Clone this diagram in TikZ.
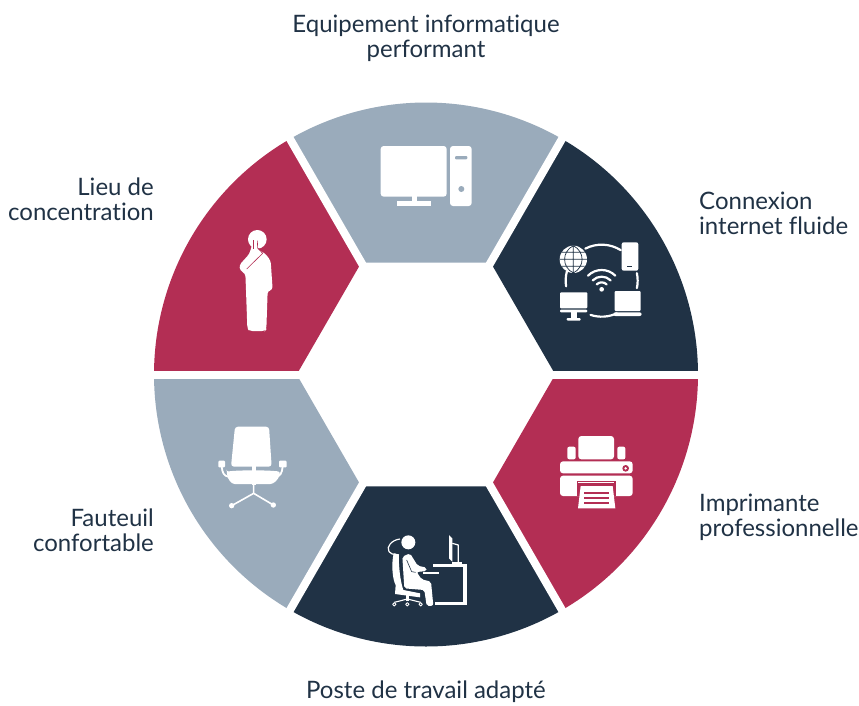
\documentclass[tikz,border=0pt]{standalone}
\usepackage{fontspec}
\usepackage{tikz}
\setmainfont{Lato}[Ligatures=NoCommon]
\definecolor{ringnavy}{HTML}{203245}
\definecolor{ringgray}{HTML}{9AABBB}
\definecolor{ringred}{HTML}{B32E54}
\tikzset{
    label text/.style = {font=\fontsize{24}{25.5}\selectfont, text=ringnavy, inner sep=0pt},
    label left/.style = {label text, align=left, anchor=north west},
    label right/.style = {label text, align=right, anchor=north east},
    label mid/.style = {label text, align=center, anchor=north},
    icon/.style = {fill=white, draw=none},
    thin wire/.style = {draw=white, line width=2.2pt, line cap=round}
}

\begin{document}
\begin{tikzpicture}[
            x = 1pt,
            y = -1pt,
            line join = round
        ]
        \useasboundingbox (0,0) rectangle (859,705);

        % ring
        \begin{scope}[shift={(426,374.5)}, y=1pt]
            \foreach \from/\col in {0/ringnavy, 60/ringgray, 120/ringred, 180/ringgray, 240/ringnavy, 300/ringred}
                \fill[\col] (\from:129.3) -- (\from:272) arc[start angle=\from, end angle=\from+60, radius=272] -- (\from+60:129.3) -- cycle;
            \foreach \ang in {0, 60, 120}
                \draw[white, line width=8pt] (\ang:276) -- (\ang+180:276);
        \end{scope}

        % labels
        \node[label mid] (equip) at (426,14.5) {Equipement informatique\\performant};
        \node[label left] (web) at (699,191.5) {Connexion\\internet fluide};
        \node[label left] (printer) at (699,493.5) {Imprimante\\professionnelle};
        \node[label mid] (desk) at (426,681) {Poste de travail adapté};
        \node[label right] (armchair) at (154,508.5) {Fauteuil\\confortable};
        \node[label right] (quiet) at (154,177.5) {Lieu de\\concentration};

        % computer
        \begin{scope}[shift={(360,130)}, scale=1/3]
            \fill[icon, rounded corners=3pt] (62,48) rectangle (260,200);
            \fill[icon] (155,195) rectangle (170,215);
            \fill[icon] (110,213) rectangle (213,228);
            \fill[icon, rounded corners=3pt] (270,48) rectangle (335,228);
            \fill[ringgray, rounded corners=1pt] (285,78) rectangle (322,88);
            \fill[ringgray] (304,177) circle (9);
        \end{scope}

        % network
        \begin{scope}[shift={(540,225)}, scale=1/3]
            \fill[icon] (100,103) circle (41);
            \draw[ringnavy, line width=0.7pt] (100,62) -- (100,144) (59,103) -- (141,103)
                (66,82) -- (134,82) (66,124) -- (134,124)
                (100,62) .. controls (65,80) and (65,126) .. (100,144)
                (100,62) .. controls (135,80) and (135,126) .. (100,144);
            \fill[icon, rounded corners=2pt] (245,52) rectangle (295,137);
            \fill[ringnavy] (262,122) rectangle (277,127);
            \fill[icon, rounded corners=1pt] (60,202) rectangle (142,250);
            \fill[icon, rounded corners=1pt] (60,254) rectangle (142,262);
            \fill[icon] (92,262) rectangle (110,280);
            \fill[icon, rounded corners=1pt] (80,279) rectangle (122,287);
            \fill[icon, rounded corners=1pt] (224,198) rectangle (302,258);
            \fill[icon, rounded corners=2pt] (220,262) rectangle (305,273);
            \fill[icon] (185,193) circle (7);
            \foreach \wifirad in {21, 38, 58}
                \draw[thin wire] (185,193) ++(-135:\wifirad) arc[start angle=-135, end angle=-45, radius=\wifirad];
            \foreach \linkfrom/\linkto in {-117/-58, 171/195, -12/12, 65/108}
                \draw[thin wire] (185,167) ++(\linkfrom:108) arc[start angle=\linkfrom, end angle=\linkto, radius=108];
        \end{scope}

        % printer
        \begin{scope}[shift={(540,420)}, scale=1/3]
            \fill[icon, rounded corners=3pt] (115,118) -- (115,48) -- (222,48) -- (222,118) -- cycle;
            \fill[icon, rounded corners=2pt] (82,118) -- (82,80) -- (107,80) -- (107,118) -- cycle;
            \fill[icon, rounded corners=2pt] (232,118) -- (232,80) -- (256,80) -- (256,118) -- cycle;
            \fill[icon, rounded corners=3pt] (60,160) -- (60,124) -- (278,124) -- (278,160) -- cycle;
            \fill[ringred] (257,145) circle (10);
            \fill[icon] (257,145) circle (4);
            \fill[icon, rounded corners=3pt] (60,167) -- (60,228) -- (278,228) -- (278,167) -- cycle;
            \fill[ringred] (112,182) rectangle (228,228);
            \draw[white, line width=0.6pt] (115,188) -- (223,188);
            \fill[icon] (122,198) -- (218,198) -- (226,265) -- (114,265) -- cycle;
            \foreach \rowy in {218, 233, 248}
                \draw[ringred, line width=1.8pt] (133,\rowy) -- (207,\rowy);
        \end{scope}

        % office desk
        \begin{scope}[shift={(375,525)}, scale=1/3]
            \fill[icon] (100,52) circle (21);
            \draw[white, line width=1.2pt] (75,42) .. controls (50,45) and (33,65) .. (42,80) .. controls (48,88) and (55,88) .. (62,88);
            \fill[icon] (56,85) .. controls (48,120) and (53,165) .. (62,180) -- (60,207) -- (135,217) -- (135,205) -- (85,195) .. controls (76,170) and (70,120) .. (72,88) -- cycle;
            \fill[icon, rounded corners=2pt] (82,95) -- (105,85) -- (128,122) -- (155,128) -- (155,138) -- (125,141) -- (140,163) -- (168,170) -- (175,242) -- (155,243) -- (148,195) -- (88,190) -- cycle;
            \draw[ringnavy, line width=0.6pt] (95,105) -- (110,140) -- (122,142);
            \fill[icon] (93,208) rectangle (101,228);
            \draw[white, line width=1.1pt] (58,232) -- (97,222) -- (137,232);
            \foreach \wheelx in {58, 97, 137}
                \draw[white, line width=0.9pt] (\wheelx,238) circle (5);
            \fill[icon] (143,140) rectangle (193,148);
            \fill[icon] (175,118) rectangle (273,127);
            \fill[icon] (265,118) rectangle (275,241);
            \fill[icon] (180,232) rectangle (275,241);
            \fill[icon] (222,30) -- (232,40) -- (232,110) -- (222,100) -- cycle;
            \draw[white, line width=1.2pt] (232,55) -- (250,60) -- (250,112);
            \fill[icon] (232,110) rectangle (262,116);
        \end{scope}

        % armchair
        \begin{scope}[shift={(205,415)}, scale=1/3]
            \fill[icon, rounded corners=3pt] (90,35) -- (192,35) -- (200,155) -- (78,155) -- cycle;
            \fill[icon] (140,150) rectangle (152,210);
            \fill[icon, rounded corners=2pt] (65,170) .. controls (100,165) and (190,165) .. (225,170) .. controls (222,195) and (205,207) .. (190,207) -- (95,207) .. controls (80,207) and (68,195) .. (65,170) -- cycle;
            \fill[icon, rounded corners=1pt] (40,137) rectangle (60,157);
            \fill[icon, rounded corners=1pt] (222,137) rectangle (245,157);
            \draw[white, line width=1.8pt] (50,155) .. controls (52,175) and (58,183) .. (70,185);
            \draw[white, line width=1.8pt] (233,155) .. controls (231,175) and (225,183) .. (215,185);
            \draw[white, line width=1.6pt] (146,205) -- (146,235) -- (80,272) (146,235) -- (205,270);
            \fill[icon] (80,272) circle (8);
            \fill[icon] (205,270) circle (8);
        \end{scope}

        % person
        \begin{scope}[shift={(220,220)}, scale=1/3]
            \fill[icon] (112,58) circle (28);
            \fill[icon, rounded corners=3pt] (100,62) -- (110,62) -- (112,88) -- (135,100) -- (152,122) -- (158,210) -- (143,212) -- (139,328) -- (135,333) -- (88,333) -- (82,325) -- (78,210) -- (76,160) -- (60,152) -- (58,135) -- (88,102) -- cycle;
            \draw[ringred, line width=0.6pt] (101,60) -- (101,86);
            \draw[ringred, line width=0.6pt] (112,62) -- (113,84) -- (128,100) -- (80,147);
        \end{scope}
    \end{tikzpicture}
\end{document}
